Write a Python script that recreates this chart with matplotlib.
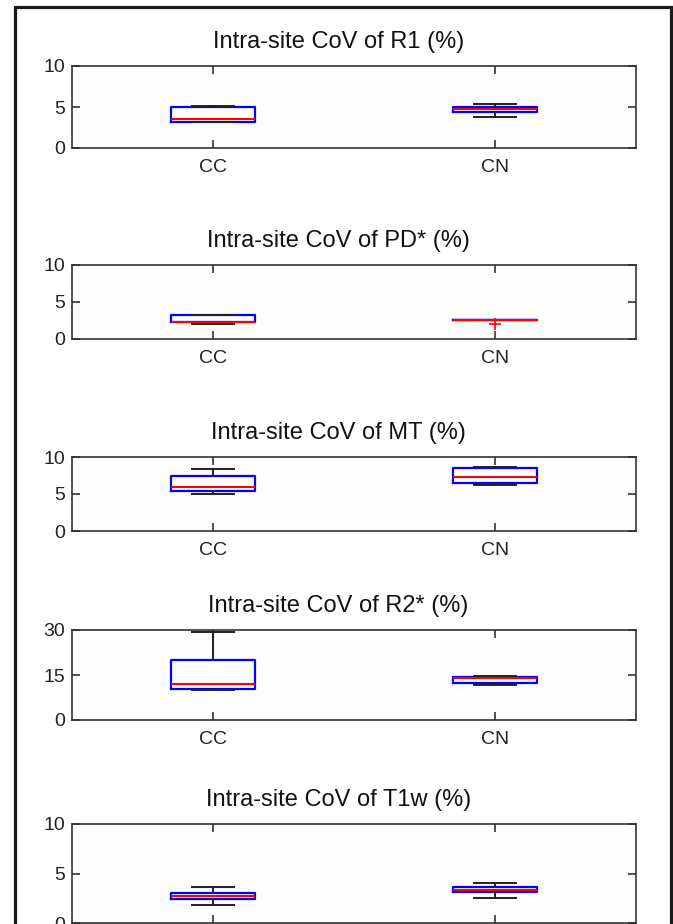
import numpy as np
import matplotlib
matplotlib.use('Agg')
import matplotlib.pyplot as plt
from matplotlib.patches import Rectangle

plt.rcParams['font.family'] = ['Liberation Sans', 'DejaVu Sans']

# Valores (box plots estilo MATLAB)
groups = ['CC', 'CN']
titles = ['Intra-site CoV of R1 (%)', 'Intra-site CoV of PD* (%)',
          'Intra-site CoV of MT (%)', 'Intra-site CoV of R2* (%)',
          'Intra-site CoV of T1w (%)']
ylims = [10, 10, 10, 30, 10]
yticks = [[0, 5, 10], [0, 5, 10], [0, 5, 10], [0, 15, 30], [0, 5, 10]]

# [CC, CN] por painel
whislo = [[3.2, 3.8], [2.05, 2.5], [5.0, 6.27], [10.1, 11.6], [1.8, 2.55]]
q1 = [[3.2, 4.4], [2.23, 2.5], [5.45, 6.55], [10.5, 12.3], [2.4, 3.09]]
med = [[3.5, 4.76], [2.3, 2.56], [5.95, 7.27], [12.0, 14.1], [2.75, 3.36]]
q3 = [[5.0, 5.04], [3.2, 2.58], [7.45, 8.5], [20.0, 14.2], [3.0, 3.66]]
whishi = [[5.1, 5.4], [3.2, 2.58], [8.36, 8.68], [29.2, 14.8], [3.6, 4.06]]
fliers = [[[], []], [[], [2.0]], [[], []], [[], []], [[], []]]

# posicao dos eixos em pixels (topo, base)
W, H = 673, 924
rows = [(66, 148), (265, 339), (457, 531), (630, 720), (824, 923)]
left, right = 72, 636

fig = plt.figure(figsize=(W / 100, H / 100), dpi=100)
fig.patch.set_facecolor('white')

for p in range(5):
    top, bot = rows[p]
    ax = fig.add_axes([left / W, 1 - bot / H, (right - left) / W, (bot - top) / H])
    ax.set_facecolor('#fdfdfd')
    stats = []
    for g in range(2):
        stats.append({'med': med[p][g], 'q1': q1[p][g], 'q3': q3[p][g],
                      'whislo': whislo[p][g], 'whishi': whishi[p][g],
                      'fliers': fliers[p][g], 'label': groups[g]})
    ax.bxp(stats, positions=[1, 2], widths=0.3, showfliers=True,
           boxprops=dict(color='#0000ff', lw=1.6),
           medianprops=dict(color='#ff0000', lw=1.5),
           whiskerprops=dict(color='#222222', lw=1.4),
           capprops=dict(color='#222222', lw=1.4),
           capwidths=0.15,
           flierprops=dict(marker='+', markeredgecolor='#ff0000', markersize=9, mew=1.2))
    ax.set_xlim(0.5, 2.5)
    ax.set_ylim(0, ylims[p])
    ax.set_yticks(yticks[p])
    ax.set_xticks([1, 2])
    ax.set_xticklabels(groups)
    ax.tick_params(direction='in', length=6, width=1.1, top=True, right=True,
                   labelsize=14, colors='#222222')
    ax.tick_params(axis='x', pad=8)
    ax.tick_params(axis='y', pad=5)
    if p == 4:
        # a figura original esta cortada por baixo deste painel
        ax.tick_params(axis='x', labelbottom=False)
    for s in ax.spines.values():
        s.set_color('#333333')
        s.set_linewidth(1.2)
    ax.set_title(titles[p], fontsize=17, color='#111111', pad=13, x=0.472)

# moldura preta em volta da figura (cortada em baixo)
frame = Rectangle((15 / W, -0.1), (671 - 15) / W, (H - 7) / H + 0.1,
                  transform=fig.transFigure, fill=False, lw=2.3,
                  edgecolor='#1a1a1a', clip_on=False)
fig.patches.append(frame)

plt.savefig('out.png', dpi=100)
